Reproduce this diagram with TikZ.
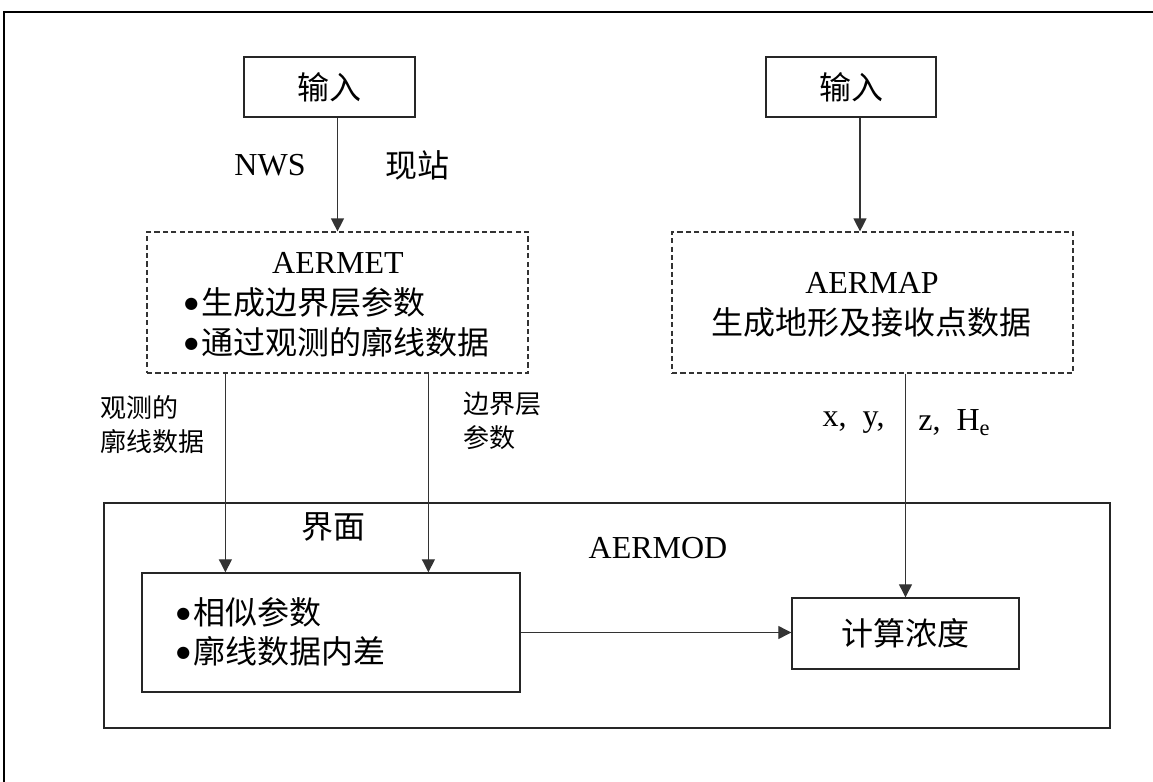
\documentclass[tikz,border=0pt]{standalone}
\usepackage{fontspec}
\setmainfont{Liberation Serif}
\newfontfamily\cjk{Noto Sans CJK SC}
\newfontfamily\dejavu{DejaVu Sans}
\usetikzlibrary{arrows.meta,calc}
\newcommand{\bul}{\raisebox{3.2pt}{\dejavu\fontsize{8pt}{8pt}\selectfont ●}\hspace{0.1em}}
\tikzset{
  box/.style={draw=black!85, line width=0.7pt, inner sep=0pt, rectangle},
  dbox/.style={draw=black!80, line width=0.6pt, dash pattern=on 2.6pt off 1.6pt, inner sep=0pt, rectangle},
  arr/.style={draw=black!80, line width=0.6pt, -{Triangle[width=6.5pt,length=6.5pt]}},
  big/.style={font=\fontsize{16pt}{19pt}\selectfont, inner sep=0pt},
  bullets/.style={font=\fontsize{16pt}{19.75pt}\selectfont, inner sep=0pt, align=left},
  small/.style={font=\fontsize{13pt}{17pt}\selectfont, inner sep=0pt, align=left},
}
\begin{document}
\begin{tikzpicture}[x=0.5pt,y=-0.5pt]
\useasboundingbox (0,0) rectangle (1153,782);
\fill[white] (0,0) rectangle (1153,782);
% outer frame
\draw[line width=1pt] (4,782) -- (4,12) -- (1153,12);

% boxes
\node[box, minimum width=85.5pt, minimum height=30pt, big] (in1) at (329.5,87) {\cjk 输入};
\node[box, minimum width=85pt, minimum height=30pt, big] (in2) at (851,87) {\cjk 输入};
\node[dbox, minimum width=190.5pt, minimum height=70.5pt] (aermet) at (337.5,302.5) {};
\node[dbox, minimum width=200.5pt, minimum height=70.5pt] (aermap) at (872.5,302.5) {};
\node[box, minimum width=503pt, minimum height=112.5pt] (aermod) at (607,615.5) {};
\node[box, minimum width=189pt, minimum height=59.5pt] (inner) at (331,632.5) {};
\node[box, minimum width=113.5pt, minimum height=35.5pt, big] (calc) at (905.5,633.5) {\cjk 计算浓度};

% texts in AERMET
\node[big] (metT) at (338,263) {AERMET};
\node[bullets, anchor=west] (metL) at (184,322.5) {\bul\cjk 生成边界层参数\\\bul\cjk 通过观测的廓线数据};
% texts in AERMAP
\node[big] (mapT) at (872,283) {AERMAP};
\node[big] (map1) at (871.5,322) {\cjk 生成地形及接收点数据};
% texts in AERMOD
\node[big] (jm) at (333,527) {\cjk 界面};
\node[big] (modT) at (658,548) {AERMOD};
\node[bullets, anchor=west] (innL) at (176,632) {\bul\cjk 相似参数\\\bul\cjk 廓线数据内差};

% labels
\node[big] (nws) at (270,165) {NWS};
\node[big] (xz) at (417.5,165) {\cjk 现站};
\node[small, anchor=west] (lab1) at (100,425) {\cjk 观测的\\\cjk 廓线数据};
\node[small, anchor=west] (lab2) at (463,421) {\cjk 边界层\\\cjk 参数};
\node[big, anchor=east] (xy) at (885,423) {x,\ \ y,};
\node[big, anchor=west] (zh) at (918,423) {z,\ \ H\textsubscript{e}};

% connectors
\draw[arr] (in1.south -| aermet.north) -- (aermet.north);
\coordinate (a2s) at ($(in2.south)+(9,0)$);
\draw[arr] (a2s) -- (a2s |- aermap.north);
\coordinate (l1) at ($(aermet.south west)+(79,0)$);
\coordinate (l2) at ($(aermet.south west)+(282,0)$);
\draw[arr] (l1) -- (l1 |- inner.north);
\draw[arr] (l2) -- (l2 |- inner.north);
\draw[arr] (calc.north |- aermap.south) -- (calc.north);
\draw[arr] (inner.east) -- (inner.east -| calc.west);
\end{tikzpicture}
\end{document}
